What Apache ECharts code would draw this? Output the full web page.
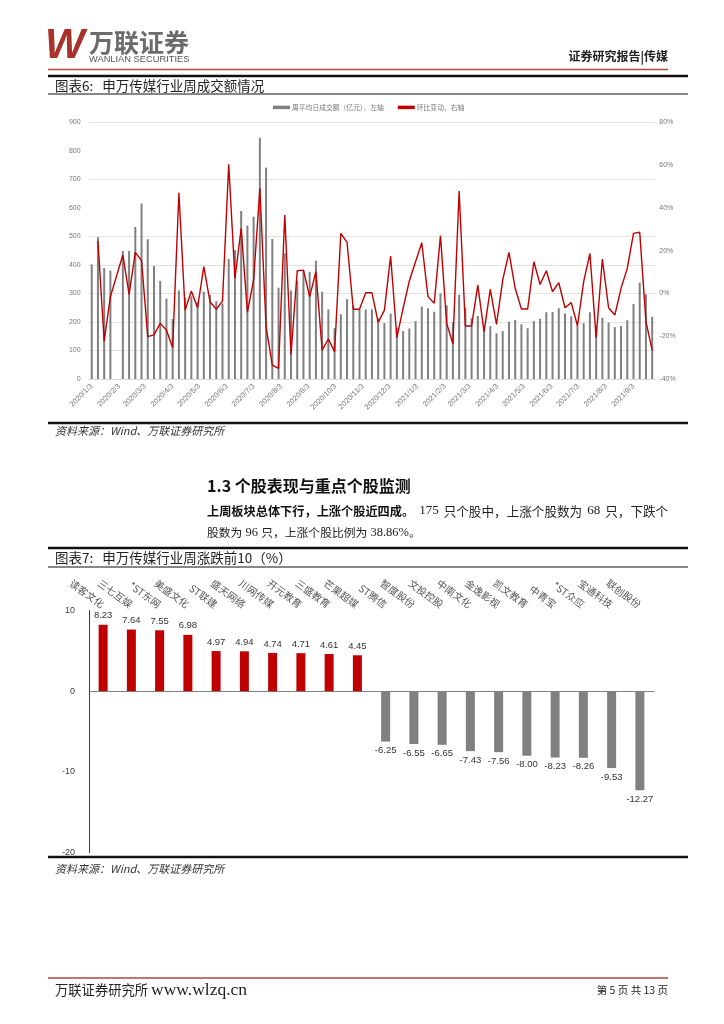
<!DOCTYPE html>
<html><head><meta charset="utf-8">
<script src="https://cdn.jsdelivr.net/npm/echarts@6/dist/echarts.min.js"></script>
<style>html,body{margin:0;padding:0;background:#fff}#c{width:724px;height:1024px}</style>
</head><body><div id="c"></div>
<script>
// ---------- Figure 6 data ----------
const weekDates = [
'2020/1/3','2020/1/10','2020/1/17','2020/1/24','2020/2/7','2020/2/14','2020/2/21','2020/2/28',
'2020/3/6','2020/3/13','2020/3/20','2020/3/27','2020/4/3','2020/4/10','2020/4/17','2020/4/24',
'2020/5/1','2020/5/8','2020/5/15','2020/5/22','2020/5/29','2020/6/5','2020/6/12','2020/6/19','2020/6/26',
'2020/7/3','2020/7/10','2020/7/17','2020/7/24','2020/7/31','2020/8/7','2020/8/14','2020/8/21','2020/8/28',
'2020/9/4','2020/9/11','2020/9/18','2020/9/25','2020/10/2','2020/10/9','2020/10/16','2020/10/23','2020/10/30',
'2020/11/6','2020/11/13','2020/11/20','2020/11/27','2020/12/4','2020/12/11','2020/12/18','2020/12/25',
'2021/1/1','2021/1/8','2021/1/15','2021/1/22','2021/1/29','2021/2/5','2021/2/12','2021/2/19','2021/2/26',
'2021/3/5','2021/3/12','2021/3/19','2021/3/26','2021/4/2','2021/4/9','2021/4/16','2021/4/23','2021/4/30',
'2021/5/7','2021/5/14','2021/5/21','2021/5/28','2021/6/4','2021/6/11','2021/6/18','2021/6/25',
'2021/7/2','2021/7/9','2021/7/16','2021/7/23','2021/7/30','2021/8/6','2021/8/13','2021/8/20','2021/8/27',
'2021/9/3','2021/9/10','2021/9/17','2021/9/24'];
const turnover = [
402,497,389,380,449,449,533,615,
490,396,344,282,210,310,285,290,
270,306,295,273,265,421,452,589,538,
569,846,741,491,320,441,310,345,382,
376,415,306,244,178,227,280,258,243,
244,244,213,196,229,180,168,177,
203,254,248,236,300,258,199,295,251,
213,221,181,185,160,168,201,207,192,
178,203,211,234,235,248,230,220,
187,196,234,186,215,198,182,186,206,
263,338,297,218];
const weeklyChange = [
null,24.5,-22.3,-1.5,18,-0.4,19.2,15.3,
-20.2,-19.4,-14,-17.1,-25.4,47.1,-7.8,1.1,
-6.7,12.5,-3.9,-7.4,-3.6,60.4,7,30.4,-8.8,
6.3,49.1,-15.6,-33.5,-35,36.7,-28.5,10.6,10.9,
-1.5,10.2,-26.5,-21.3,-27.2,28.1,23.9,-7.4,-7.4,
0.3,0.3,-13.5,-7.8,17.5,-20.7,-7,5.8,
14.8,23.7,-1.5,-4.6,27,-14,-23.5,47.9,-15.2,
-15.2,3.9,-17.9,1.9,-14.5,6.3,19.2,2.4,-7.3,
-7.3,14.8,4.2,10.6,0.8,5,-6.7,-4.3,
-15.1,5.5,18.7,-20.7,16.1,-6.7,-10.1,2.4,11.7,
28.1,28.6,-13.2,-26.5];
const monthTickLabels = ['2020/1/3','2020/2/3','2020/3/3','2020/4/3','2020/5/3','2020/6/3','2020/7/3',
'2020/8/3','2020/9/3','2020/10/3','2020/11/3','2020/12/3','2021/1/3','2021/2/3','2021/3/3','2021/4/3',
'2021/5/3','2021/6/3','2021/7/3','2021/8/3','2021/9/3'];
const seriesNames6 = ['周平均日成交额（亿元），左轴', '环比变动，右轴'];

// ---------- Figure 7 data ----------
const gainerNames = ['读客文化','三七互娱','*ST东网','美盛文化','ST联建','盛天网络','川网传媒','开元教育','三盛教育','芒果超媒'];
const gainerValues = [8.23,7.64,7.55,6.98,4.97,4.94,4.74,4.71,4.61,4.45];
const loserNames = ['ST腾信','智度股份','文投控股','中南文化','金逸影视','凯文教育','中青宝','*ST众应','宝通科技','联创股份'];
const loserValues = [-6.25,-6.55,-6.65,-7.43,-7.56,-8.00,-8.23,-8.26,-9.53,-12.27];

// ---------- helpers ----------
function ts(s){const p=s.split('/').map(Number);return Date.UTC(p[0],p[1]-1,p[2]);}
function fmtDate(v){const d=new Date(v);return d.getUTCFullYear()+'/'+(d.getUTCMonth()+1)+'/'+d.getUTCDate();}
const DAY=86400000;
const xMin = ts(weekDates[0]) - 3.5*DAY;
const xMax = ts(weekDates[weekDates.length-1]) + 3.5*DAY;
const barData = weekDates.map((d,i)=>[ts(d), turnover[i]]);
const lineData = weekDates.map((d,i)=>[ts(d), weeklyChange[i]]).filter(p=>p[1]!==null);
const cats7 = gainerNames.concat(loserNames);
const gainSeries = gainerValues.concat(loserNames.map(()=>null));
const loseSeries = gainerNames.map(()=>null).concat(loserValues);

const CJK = '"Noto Sans CJK SC", sans-serif';
const SERIF = '"Liberation Serif", serif';
const RED = '#c00000', GRAY = '#808080', RULE = '#b5453d';

const chart = echarts.init(document.getElementById('c'), null, {renderer:'canvas'});
const option = {
  animation:false,
  backgroundColor:'#fff',
  textStyle:{fontFamily:CJK},
  legend:{
    top:99, left:268, itemGap:14, itemWidth:17, itemHeight:3.5,
    textStyle:{fontSize:6.8, color:'#777', fontFamily:CJK, padding:[0,0,0,-3]},
    data:[{name:seriesNames6[0], icon:'rect'}, {name:seriesNames6[1], icon:'rect'}]
  },
  grid:[
    {left:88.6, top:122.3, width:566.7, height:256.7},
    {left:89, top:610.5, width:565, height:242}
  ],
  xAxis:[
    {type:'value', gridIndex:0, min:xMin, max:xMax, scale:true,
     axisLine:{show:true, onZero:false, lineStyle:{color:'#d9d9d9'}},
     axisTick:{show:false}, splitLine:{show:false},
     axisLabel:{customValues:monthTickLabels.map(ts), rotate:45, fontSize:7.5, color:'#777', margin:6,
       hideOverlap:false, showMinLabel:true, showMaxLabel:true, fontFamily:'"Liberation Sans", sans-serif',
       formatter:fmtDate}},
    {type:'category', gridIndex:1, position:'top', data:cats7,
     axisLine:{show:false, onZero:false}, axisTick:{show:false},
     axisLabel:{rotate:36, fontSize:10, color:'#555', margin:5, interval:0, fontFamily:CJK}},
    {type:'category', gridIndex:1, position:'bottom', data:cats7,
     axisLine:{show:true, onZero:true, lineStyle:{color:'#7f7f7f', width:1}},
     axisTick:{show:false}, axisLabel:{show:false}}
  ],
  yAxis:[
    {type:'value', gridIndex:0, min:0, max:900, interval:100, position:'left',
     axisLine:{show:false}, axisTick:{show:false},
     axisLabel:{fontSize:7, color:'#777', margin:8, fontFamily:'"Liberation Sans", sans-serif'},
     splitLine:{show:true, lineStyle:{width:1, color:['#e3e3e3','#e3e3e3','#e3e3e3','#e3e3e3','#e3e3e3','#e3e3e3','rgba(0,0,0,0)','#e3e3e3','rgba(0,0,0,0)','#e3e3e3']}}},
    {type:'value', gridIndex:0, min:-40, max:80, interval:20, position:'right',
     axisLine:{show:false}, axisTick:{show:false}, splitLine:{show:false},
     axisLabel:{fontSize:7, color:'#777', margin:4, formatter:'{value}%', fontFamily:'"Liberation Sans", sans-serif'}},
    {type:'value', gridIndex:1, min:-20, max:10, interval:10, position:'left',
     axisLine:{show:true, lineStyle:{color:'#404040', width:1}}, axisTick:{show:false}, splitLine:{show:false},
     axisLabel:{fontSize:9, color:'#404040', margin:14, fontFamily:'"Liberation Sans", sans-serif'}}
  ],
  series:[
    {name:seriesNames6[0], type:'bar', xAxisIndex:0, yAxisIndex:0, data:barData, barWidth:2,
     itemStyle:{color:GRAY}},
    {name:seriesNames6[1], type:'line', xAxisIndex:0, yAxisIndex:1, data:lineData, symbol:'none',
     lineStyle:{color:RED, width:1.4}, itemStyle:{color:RED}},
    {type:'bar', xAxisIndex:2, yAxisIndex:2, data:gainSeries, barWidth:9, barGap:'-100%',
     itemStyle:{color:RED},
     label:{show:true, position:'top', distance:4, fontSize:9.5, color:'#333', fontFamily:'"Liberation Sans", sans-serif',
       formatter:p=>p.value.toFixed(2)}},
    {type:'bar', xAxisIndex:2, yAxisIndex:2, data:loseSeries, barWidth:9, barGap:'-100%',
     itemStyle:{color:GRAY},
     label:{show:true, position:'bottom', distance:4, fontSize:9.5, color:'#333', fontFamily:'"Liberation Sans", sans-serif',
       formatter:p=>p.value.toFixed(2)}}
  ],
  graphic:{elements:[
    {type:'text', x:45, y:46, style:{text:'W', font:'italic bold 42px "Liberation Sans"', fill:'#a8322c', textVerticalAlign:'middle'}},
    {type:'text', x:89, y:42, style:{text:'万联证券', font:'bold 25px '+CJK, fill:'#6b6b6b', textVerticalAlign:'middle'}},
    {type:'text', x:89, y:59.5, style:{text:'WANLIAN SECURITIES', font:'9.3px "Liberation Sans"', fill:'#555', textVerticalAlign:'middle'}},
    {type:'text', x:668, y:56, style:{text:'证券研究报告|传媒', font:'bold 12px '+CJK, fill:'#222', textAlign:'right', textVerticalAlign:'middle'}},
    {type:'line', shape:{x1:48,y1:69.5,x2:668,y2:69.5}, style:{stroke:RULE, lineWidth:1.5}},

    {type:'line', shape:{x1:48,y1:76,x2:688,y2:76}, style:{stroke:'#111', lineWidth:2.5}},
    {type:'text', x:55, y:85.5, style:{text:'图表6: {t|申万传媒行业周成交额情况}', font:'13.5px '+CJK, fill:'#222', textVerticalAlign:'middle',
      rich:{t:{font:'13.5px '+CJK, fill:'#222', padding:[0,0,0,6]}}}},
    {type:'line', shape:{x1:48,y1:94,x2:688,y2:94}, style:{stroke:'#111', lineWidth:1}},
    {type:'line', shape:{x1:48,y1:423,x2:688,y2:423}, style:{stroke:'#111', lineWidth:2.5}},
    {type:'text', x:55, y:431, style:{text:'资料来源：Wind、万联证券研究所', font:'italic 11px '+CJK, fill:'#333', textVerticalAlign:'middle'}},

    {type:'text', x:207, y:486, style:{text:'1.3 个股表现与重点个股监测', font:'bold 16px '+CJK, fill:'#111', textVerticalAlign:'middle'}},
    {type:'text', x:207, y:511, style:{text:'{b|上周板块总体下行，上涨个股近四成。}{d|175}{n|只个股中，上涨个股数为}{d|68}{n|只，下跌个}',
      textVerticalAlign:'middle',
      rich:{b:{font:'bold 12.2px '+CJK, fill:'#111'}, n:{font:'12.6px '+CJK, fill:'#222'}, d:{font:'13px '+SERIF, fill:'#222', padding:[0,5,0,5]}}}},
    {type:'text', x:207, y:533, style:{text:'{n|股数为}{d| 96 }{n|只，上涨个股比例为}{d| 38.86%}{n|。}',
      textVerticalAlign:'middle',
      rich:{n:{font:'11.8px '+CJK, fill:'#222'}, d:{font:'12.5px '+SERIF, fill:'#222'}}}},

    {type:'line', shape:{x1:48,y1:548,x2:688,y2:548}, style:{stroke:'#111', lineWidth:2.5}},
    {type:'text', x:55, y:558, style:{text:'图表7: {t|申万传媒行业周涨跌前10（%）}', font:'13.5px '+CJK, fill:'#222', textVerticalAlign:'middle',
      rich:{t:{font:'13.5px '+CJK, fill:'#222', padding:[0,0,0,6]}}}},
    {type:'line', shape:{x1:48,y1:567,x2:688,y2:567}, style:{stroke:'#111', lineWidth:1}},
    {type:'line', shape:{x1:48,y1:857,x2:688,y2:857}, style:{stroke:'#111', lineWidth:2.5}},
    {type:'text', x:55, y:869, style:{text:'资料来源：Wind、万联证券研究所', font:'italic 11px '+CJK, fill:'#333', textVerticalAlign:'middle'}},

    {type:'line', shape:{x1:48,y1:978,x2:668,y2:978}, style:{stroke:RULE, lineWidth:1.5}},
    {type:'text', x:55, y:990, style:{text:'万联证券研究所 {u|www.wlzq.cn}', font:'13.3px '+CJK, fill:'#222', textVerticalAlign:'middle',
      rich:{u:{font:'17.5px '+SERIF, fill:'#222'}}}},
    {type:'text', x:668, y:990, style:{text:'第 5 页 共 13 页', font:'10.5px '+CJK, fill:'#222', textAlign:'right', textVerticalAlign:'middle'}}
  ]}
};
chart.setOption(option);
</script></body></html>
